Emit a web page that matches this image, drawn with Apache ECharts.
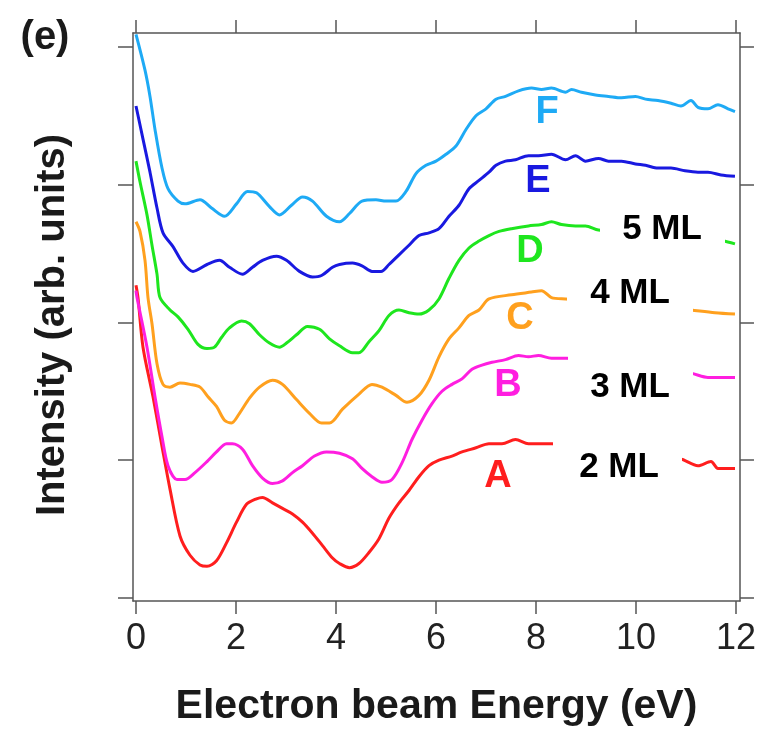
<!DOCTYPE html>
<html>
<head>
<meta charset="utf-8">
<script src="https://cdn.jsdelivr.net/npm/echarts@6/dist/echarts.min.js"></script>
<style>
html,body{margin:0;padding:0;background:#fff;}
#chart{width:759px;height:732px;}
</style>
</head>
<body>
<div id="chart"></div>
<script>
// ---- data (x: electron beam energy in eV, y: intensity in arb. units, offset curves) ----
var xTicks = [0, 2, 4, 6, 8, 10, 12];
var yTicks = [0, 1, 2, 3, 4];

var curveF = [[0,4.09],[0.18,3.83],[0.28,3.64],[0.38,3.40],[0.52,3.12],[0.64,2.97],[0.84,2.88],[0.98,2.86],[1.28,2.89],[1.51,2.83],[1.77,2.77],[2.01,2.86],[2.23,2.95],[2.41,2.94],[2.67,2.84],[2.87,2.78],[3.11,2.85],[3.33,2.91],[3.53,2.88],[3.81,2.77],[4.07,2.73],[4.27,2.79],[4.52,2.88],[4.80,2.89],[5.00,2.88],[5.20,2.88],[5.40,2.95],[5.60,3.08],[5.80,3.14],[6.00,3.17],[6.20,3.22],[6.40,3.28],[6.60,3.40],[6.80,3.50],[7.00,3.55],[7.20,3.62],[7.39,3.64],[7.65,3.68],[7.91,3.70],[8.11,3.69],[8.31,3.70],[8.59,3.67],[8.71,3.69],[8.91,3.67],[9.19,3.65],[9.45,3.64],[9.71,3.63],[9.99,3.64],[10.19,3.62],[10.44,3.61],[10.70,3.59],[10.90,3.57],[11.10,3.61],[11.24,3.56],[11.44,3.55],[11.64,3.58],[11.84,3.55],[11.98,3.53]];

var curveE = [[0,3.57],[0.14,3.33],[0.28,3.09],[0.42,2.83],[0.54,2.65],[0.74,2.55],[0.94,2.43],[1.14,2.37],[1.42,2.42],[1.67,2.45],[1.87,2.40],[2.13,2.35],[2.33,2.40],[2.53,2.45],[2.81,2.48],[3.01,2.45],[3.27,2.37],[3.53,2.33],[3.71,2.34],[3.93,2.40],[4.07,2.42],[4.33,2.43],[4.52,2.41],[4.72,2.37],[4.90,2.37],[5.06,2.42],[5.26,2.49],[5.46,2.56],[5.66,2.63],[5.86,2.65],[6.06,2.68],[6.26,2.77],[6.46,2.85],[6.66,2.97],[6.86,3.03],[7.06,3.09],[7.20,3.14],[7.39,3.17],[7.59,3.18],[7.85,3.21],[8.05,3.21],[8.31,3.22],[8.59,3.18],[8.79,3.21],[8.99,3.17],[9.25,3.19],[9.45,3.17],[9.71,3.17],[9.99,3.15],[10.19,3.14],[10.44,3.12],[10.70,3.12],[10.98,3.10],[11.24,3.09],[11.44,3.09],[11.70,3.07],[11.98,3.06]];

var curveD = [[0,3.17],[0.08,3.02],[0.22,2.78],[0.32,2.56],[0.42,2.35],[0.48,2.18],[0.68,2.09],[0.84,2.04],[1.04,1.95],[1.24,1.84],[1.42,1.81],[1.57,1.82],[1.71,1.89],[1.87,1.96],[2.11,2.01],[2.27,1.99],[2.47,1.91],[2.67,1.85],[2.87,1.82],[3.01,1.85],[3.21,1.91],[3.43,1.97],[3.67,1.95],[3.87,1.88],[4.07,1.83],[4.33,1.78],[4.46,1.78],[4.66,1.86],[4.86,1.94],[5.06,2.05],[5.26,2.09],[5.46,2.07],[5.66,2.06],[5.86,2.09],[6.06,2.17],[6.26,2.32],[6.46,2.45],[6.66,2.54],[6.86,2.59],[7.06,2.63],[7.26,2.66],[7.51,2.68],[7.85,2.70],[8.11,2.71],[8.31,2.73],[8.51,2.71],[8.79,2.70],[8.99,2.70],[9.25,2.67],[10.05,2.64],[11.04,2.61],[11.74,2.59],[11.98,2.57]];

var curveC = [[0,2.73],[0.08,2.66],[0.18,2.45],[0.24,2.18],[0.32,1.99],[0.42,1.70],[0.54,1.55],[0.68,1.53],[0.88,1.56],[1.08,1.55],[1.28,1.53],[1.44,1.46],[1.61,1.39],[1.77,1.29],[1.91,1.27],[2.07,1.34],[2.27,1.45],[2.47,1.53],[2.73,1.58],[2.93,1.55],[3.21,1.44],[3.47,1.34],[3.71,1.27],[3.87,1.27],[4.13,1.37],[4.46,1.48],[4.72,1.55],[4.92,1.53],[5.20,1.47],[5.42,1.42],[5.66,1.47],[5.86,1.58],[6.06,1.75],[6.26,1.88],[6.46,1.96],[6.66,2.05],[6.86,2.09],[7.06,2.17],[7.51,2.20],[7.91,2.22],[8.11,2.23],[8.31,2.18],[8.59,2.17],[9.85,2.14],[11.10,2.09],[11.58,2.07],[11.98,2.06]];

var curveB = [[0,2.23],[0.02,2.18],[0.22,1.82],[0.38,1.46],[0.52,1.17],[0.64,0.96],[0.82,0.86],[0.98,0.86],[1.18,0.91],[1.42,0.99],[1.61,1.06],[1.81,1.12],[1.93,1.12],[2.13,1.08],[2.33,0.96],[2.53,0.87],[2.73,0.83],[2.93,0.85],[3.13,0.91],[3.33,0.96],[3.57,1.03],[3.81,1.06],[4.07,1.05],[4.33,1.01],[4.52,0.94],[4.72,0.88],[4.92,0.84],[5.12,0.86],[5.32,0.98],[5.52,1.15],[5.72,1.29],[5.92,1.41],[6.12,1.50],[6.32,1.55],[6.52,1.59],[6.72,1.66],[6.92,1.69],[7.12,1.71],[7.39,1.73],[7.65,1.76],[7.85,1.75],[8.05,1.76],[8.31,1.74],[8.61,1.74],[9.85,1.68],[11.10,1.63],[11.44,1.60],[11.98,1.60]];

var curveA = [[0,2.27],[0.04,2.18],[0.14,1.82],[0.34,1.46],[0.52,1.10],[0.68,0.79],[0.88,0.45],[1.08,0.31],[1.28,0.24],[1.42,0.23],[1.61,0.27],[1.81,0.40],[2.01,0.55],[2.21,0.68],[2.41,0.72],[2.53,0.73],[2.73,0.69],[2.93,0.65],[3.13,0.61],[3.33,0.55],[3.53,0.47],[3.73,0.38],[3.93,0.29],[4.07,0.25],[4.27,0.22],[4.46,0.25],[4.66,0.33],[4.86,0.43],[5.06,0.58],[5.26,0.69],[5.46,0.78],[5.66,0.88],[5.86,0.96],[6.06,1.00],[6.32,1.03],[6.52,1.06],[6.80,1.09],[7.06,1.12],[7.32,1.12],[7.59,1.15],[7.85,1.12],[8.05,1.12],[8.31,1.12],[9.65,1.06],[10.88,1.01],[11.24,0.96],[11.50,0.99],[11.64,0.94],[11.98,0.94]];

var curveNames = ['A', 'B', 'C', 'D', 'E', 'F'];
var layerLabels = ['2 ML', '3 ML', '4 ML', '5 ML'];

// ---- styling ----
var colors = {A:'#ff1e1e', B:'#ff1ee0', C:'#ffa01e', D:'#1ee61e', E:'#1919e0', F:'#1eaaf5'};
var curves = {A:curveA, B:curveB, C:curveC, D:curveD, E:curveE, F:curveF};
var FONT = '"Liberation Sans", Arial, Helvetica, sans-serif';
var axisColor = '#555';

var chart = echarts.init(document.getElementById('chart'), null, {renderer:'canvas'});

function xAx(pos, showLabel) {
  return {
    type:'value', position:pos, min:-0.06, max:12.08,
    axisLine:{show:true, onZero:false, lineStyle:{color:axisColor, width:1.5}},
    axisTick:{show:true, inside:false, length:13, customValues:xTicks, lineStyle:{color:axisColor, width:1.5}},
    axisLabel:{show:showLabel, customValues:xTicks, fontSize:36, color:'#222', margin:20, fontFamily:FONT},
    splitLine:{show:false},
    name: showLabel ? 'Electron beam Energy (eV)' : '',
    nameLocation:'middle', nameGap:85,
    nameTextStyle:{fontSize:41, fontWeight:'bold', color:'#1a1a1a', fontFamily:FONT}
  };
}
function yAx(pos, len) {
  return {
    type:'value', position:pos, min:-0.022, max:4.1,
    axisLine:{show:true, onZero:false, lineStyle:{color:axisColor, width:1.5}},
    axisTick:{show:true, inside:false, length:len, customValues:yTicks, lineStyle:{color:axisColor, width:1.5}},
    axisLabel:{show:false},
    splitLine:{show:false}
  };
}

var series = curveNames.map(function(k){
  return {
    type:'line', name:k, data:curves[k], xAxisIndex:0, yAxisIndex:0,
    showSymbol:false, smooth:0.3, z:2,
    lineStyle:{color:colors[k], width:3}
  };
});

// annotation boxes (white backgrounds hide the line segments behind the labels)
var boxes = [
  {text:'5 ML', cx:662, cy:229, x:600, y:207, w:125, h:46},
  {text:'4 ML', cx:630, cy:293, x:567, y:274, w:126, h:46},
  {text:'3 ML', cx:630, cy:387, x:568, y:350, w:125, h:56},
  {text:'2 ML', cx:619, cy:467, x:553, y:440, w:129, h:46}
];
var letterPos = {F:[547,113], E:[538,182], D:[530,252], C:[520,319], B:[508,386], A:[498,477]};

var graphics = [];
boxes.forEach(function(b){
  graphics.push({type:'rect', z:100, shape:{x:b.x, y:b.y, width:b.w, height:b.h}, style:{fill:'#fff'}});
  graphics.push({type:'text', z:101, x:b.cx, y:b.cy, style:{text:b.text, font:'bold 35px ' + FONT, fill:'#000',
    align:'center', verticalAlign:'middle', textAlign:'center', textVerticalAlign:'middle'}});
});
curveNames.forEach(function(k){
  graphics.push({type:'text', z:101, x:letterPos[k][0], y:letterPos[k][1], style:{text:k, font:'bold 38px ' + FONT, fill:colors[k],
    align:'center', verticalAlign:'middle', textAlign:'center', textVerticalAlign:'middle'}});
});
graphics.push({type:'text', z:101, x:45, y:38, style:{text:'(e)', font:'bold 40px ' + FONT, fill:'#1a1a1a',
  align:'center', verticalAlign:'middle', textAlign:'center', textVerticalAlign:'middle'}});
graphics.push({type:'text', z:101, x:53, y:325, rotation:Math.PI/2, style:{text:'Intensity (arb. units)', font:'bold 40px ' + FONT, fill:'#1a1a1a',
  align:'center', verticalAlign:'middle', textAlign:'center', textVerticalAlign:'middle'}});

chart.setOption({
  animation:false,
  backgroundColor:'#fff',
  grid:{left:133, top:33, width:609, height:573, containLabel:false},
  xAxis:[xAx('bottom', true), xAx('top', false)],
  yAxis:[yAx('left', 15), yAx('right', 14)],
  series:series,
  graphic:graphics
});
</script>
</body>
</html>
